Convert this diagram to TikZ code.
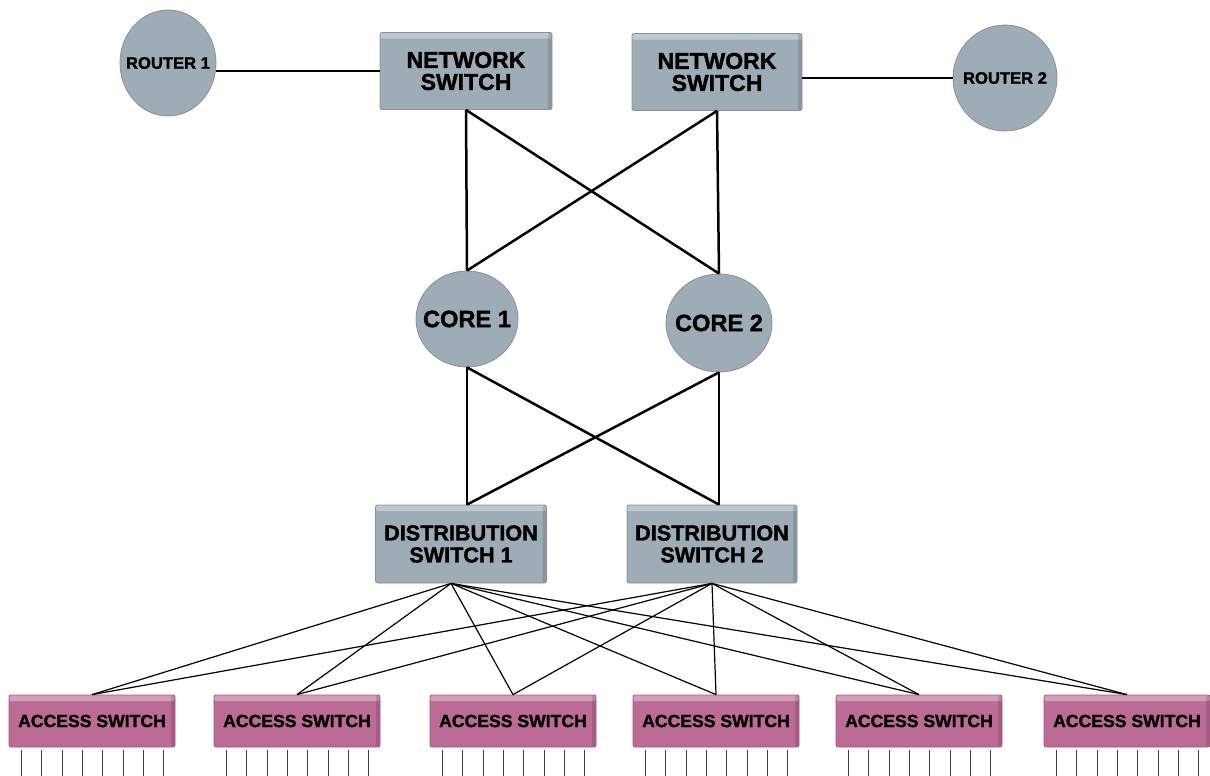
\documentclass[tikz,border=0pt]{standalone}
\usepackage{fontspec}
\setmainfont{Liberation Sans}
\newfontfamily\heavyfont[FakeBold=1.6]{Liberation Sans Bold}
\usetikzlibrary{shapes.geometric}
\definecolor{devgray}{RGB}{158,172,182}
\definecolor{accpink}{RGB}{188,106,150}
\newcommand{\lbl}[1]{\makebox[0pt]{#1}}

\begin{document}
\begin{tikzpicture}[x=0.5pt,y=-0.5pt,thick,
  bevel/.style={path picture={
    \fill[white,opacity=.35] (path picture bounding box.north west) rectangle ([yshift=-3pt]path picture bounding box.north east);
    \fill[black,opacity=.12] ([xshift=-2pt]path picture bounding box.north east) rectangle (path picture bounding box.south east);}},
  round node/.style={ellipse,fill=devgray,draw=devgray!85!black,line width=.4pt,inner sep=0pt},
  box node/.style={rectangle,rounded corners=1pt,fill=devgray,draw=devgray!85!black,line width=.4pt,bevel,inner sep=0pt,align=center,font=\heavyfont\fontsize{11.5}{11}\selectfont},
  access node/.style={rectangle,rounded corners=1pt,fill=accpink,draw=accpink!85!black,line width=.4pt,bevel,inner sep=0pt,minimum width=83pt,minimum height=26pt,font=\heavyfont\fontsize{8.8}{10}\selectfont},
  link/.style={line width=1.25pt},
  thin link/.style={line width=.6pt},
  port/.style={line width=.5pt,black!75}]
  \useasboundingbox (0,0) rectangle (1210,776);

  \node[round node,minimum width=48pt,minimum height=53pt,font=\heavyfont\fontsize{8.3}{10}\selectfont] (r1) at (168,63) {\lbl{ROUTER 1}};
  \node[round node,minimum width=52pt,minimum height=53pt,font=\heavyfont\fontsize{8.3}{10}\selectfont] (r2) at (1005,78) {\lbl{ROUTER 2}};
  \node[box node,minimum width=86pt,minimum height=38.5pt] (ns1) at (466,71) {NETWORK\\SWITCH};
  \node[box node,minimum width=85pt,minimum height=38.5pt] (ns2) at (717,72) {NETWORK\\SWITCH};
  \node[round node,minimum width=51pt,minimum height=48pt,font=\heavyfont\fontsize{11.8}{12}\selectfont] (c1) at (467,319) {\lbl{CORE 1}};
  \node[round node,minimum width=53pt,minimum height=49pt,font=\heavyfont\fontsize{11.8}{12}\selectfont] (c2) at (719,323) {\lbl{CORE 2}};
  \node[box node,minimum width=85.5pt,minimum height=39pt,font=\heavyfont\fontsize{10.8}{11}\selectfont] (d1) at (461,544) {DISTRIBUTION\\SWITCH 1};
  \node[box node,minimum width=85pt,minimum height=39pt,font=\heavyfont\fontsize{10.8}{11}\selectfont] (d2) at (712,544) {DISTRIBUTION\\SWITCH 2};

  \node[access node] (a1) at (92,721) {ACCESS SWITCH};
  \node[access node] (a2) at (297,721) {ACCESS SWITCH};
  \node[access node] (a3) at (513,721) {ACCESS SWITCH};
  \node[access node] (a4) at (716,721) {ACCESS SWITCH};
  \node[access node] (a5) at (919,721) {ACCESS SWITCH};
  \node[access node] (a6) at (1127,721) {ACCESS SWITCH};

  % uplinks to the routers
  \draw[link] (ns1.west) -- (ns1.west -| r1.east);
  \draw[link] (r2.west) -- (r2.west -| ns2.east);

  % network switches to core
  \path[link]
    (ns1.south) edge (c1.north)
    (ns1.south) edge (c2.north)
    (ns2.south) edge (c2.north)
    (ns2.south) edge (c1.north);

  % core to distribution
  \path[link]
    (c1.south) edge (c1.south |- d1.north)
    (c1.south) edge (c2.south |- d2.north)
    (c2.south) edge (c2.south |- d2.north)
    (c2.south) edge (c1.south |- d1.north);

  % distribution to access
  \foreach \i in {1,...,6} {
    \draw[thin link] ([xshift=-5pt]d1.south) -- (a\i.north);
    \draw[thin link] (d2.south) -- (a\i.north);
  }

  % ports
  \foreach \i in {1,...,6}
    \foreach \j in {0,...,7}
      \draw[port] (a\i.south west) ++(13+20.3*\j,3) -- ++(0,30);
\end{tikzpicture}
\end{document}
